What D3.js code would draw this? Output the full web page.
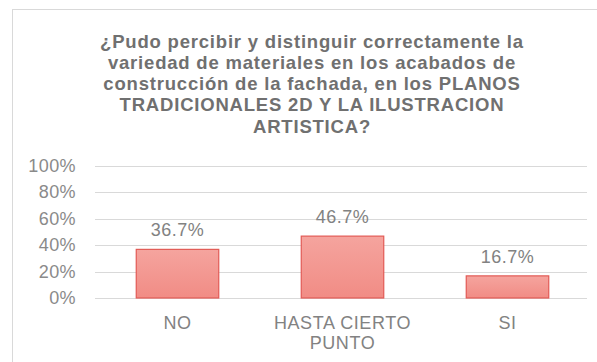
<!DOCTYPE html>
<html>
<head>
<meta charset="utf-8">
<script src="https://cdn.jsdelivr.net/npm/d3@7"></script>
<style>
  html, body { margin: 0; padding: 0; background: #fff; }
  svg { display: block; }
</style>
</head>
<body>
<svg id="chart" width="597" height="362"></svg>
<script>
// Survey answers and their shares
const titleLines = [
  "¿Pudo percibir y distinguir correctamente la",
  "variedad de materiales en los acabados de",
  "construcción de la fachada, en los PLANOS",
  "TRADICIONALES 2D Y LA ILUSTRACION",
  "ARTISTICA?"
];
const categories = ["NO", "HASTA CIERTO PUNTO", "SI"];
const values = [0.367, 0.467, 0.167];
const valueLabels = ["36.7%", "46.7%", "16.7%"];
const yTicks = [0, 0.2, 0.4, 0.6, 0.8, 1.0];

const svg = d3.select("#chart");
const font = "'Liberation Sans', Arial, Helvetica, sans-serif";

// Gradient fill for the bars
const defs = svg.append("defs");
const grad = defs.append("linearGradient")
  .attr("id", "barFill").attr("x1", 0).attr("y1", 0).attr("x2", 0).attr("y2", 1);
grad.append("stop").attr("offset", "0%").attr("stop-color", "#f5a49e");
grad.append("stop").attr("offset", "100%").attr("stop-color", "#f18c85");

// Chart frame (runs off the right and bottom edges)
svg.append("rect")
  .attr("x", 12.5).attr("y", 9.5)
  .attr("width", 700).attr("height", 400)
  .attr("fill", "none").attr("stroke", "#d9d9d9").attr("stroke-width", 1);

// Title
svg.append("g")
  .selectAll("text")
  .data(titleLines)
  .join("text")
  .attr("x", 312)
  .attr("y", (d, i) => 47.5 + i * 21.3)
  .attr("text-anchor", "middle")
  .attr("font-family", font)
  .attr("font-weight", "bold")
  .attr("font-size", 18.5)
  .attr("letter-spacing", "0.8px")
  .attr("fill", "#707070")
  .text(d => d);

// Scales
const x = d3.scaleBand()
  .domain(categories)
  .range([95, 590])
  .paddingInner(0.5)
  .paddingOuter(0.25);

const y = d3.scaleLinear()
  .domain([0, 1])
  .range([298, 165.5]);

// Horizontal gridlines
svg.append("g")
  .selectAll("line")
  .data(yTicks)
  .join("line")
  .attr("x1", 95).attr("x2", 587)
  .attr("y1", d => Math.round(y(d)) + 0.5)
  .attr("y2", d => Math.round(y(d)) + 0.5)
  .attr("stroke", "#d9d9d9")
  .attr("stroke-width", 1);

// Y axis labels
const yAxis = d3.axisLeft(y)
  .tickValues(yTicks)
  .tickFormat(d3.format(".0%"))
  .tickSize(0)
  .tickPadding(0);
const gy = svg.append("g").attr("transform", "translate(76,0)").call(yAxis);
gy.select(".domain").remove();
gy.selectAll("text")
  .attr("font-family", font)
  .attr("font-size", 18)
  .attr("letter-spacing", "0.4px")
  .attr("fill", "#8a8a8a");

// Bars
svg.append("g")
  .selectAll("rect")
  .data(values)
  .join("rect")
  .attr("x", (d, i) => x(categories[i]))
  .attr("y", d => y(d))
  .attr("width", x.bandwidth())
  .attr("height", d => y(0) - y(d))
  .attr("fill", "url(#barFill)")
  .attr("stroke", "#e25a55")
  .attr("stroke-width", 1.2);

// Value labels above each bar
svg.append("g")
  .selectAll("text")
  .data(values)
  .join("text")
  .attr("x", (d, i) => x(categories[i]) + x.bandwidth() / 2)
  .attr("y", d => y(d) - 13)
  .attr("text-anchor", "middle")
  .attr("font-family", font)
  .attr("font-size", 18)
  .attr("letter-spacing", "0.5px")
  .attr("fill", "#828282")
  .text((d, i) => valueLabels[i]);

// Category labels, wrapped to the band width
const xAxis = d3.axisBottom(x).tickSize(0).tickPadding(0);
const gx = svg.append("g").attr("transform", "translate(0,298)").call(xAxis);
gx.select(".domain").remove();
gx.selectAll("text")
  .attr("font-family", font)
  .attr("font-size", 18)
  .attr("letter-spacing", "0.6px")
  .attr("fill", "#828282")
  .attr("y", 0)
  .attr("dy", null)
  .each(function (d) {
    const t = d3.select(this);
    const words = d.split(" ");
    const lines = [];
    let cur = "";
    words.forEach(w => {
      const test = cur ? cur + " " + w : w;
      if (test.length > 12 && cur) { lines.push(cur); cur = w; }
      else cur = test;
    });
    lines.push(cur);
    t.text(null);
    lines.forEach((ln, i) => {
      t.append("tspan").attr("x", 0).attr("y", 30.5 + i * 20.8).text(ln);
    });
  });
</script>
</body>
</html>
